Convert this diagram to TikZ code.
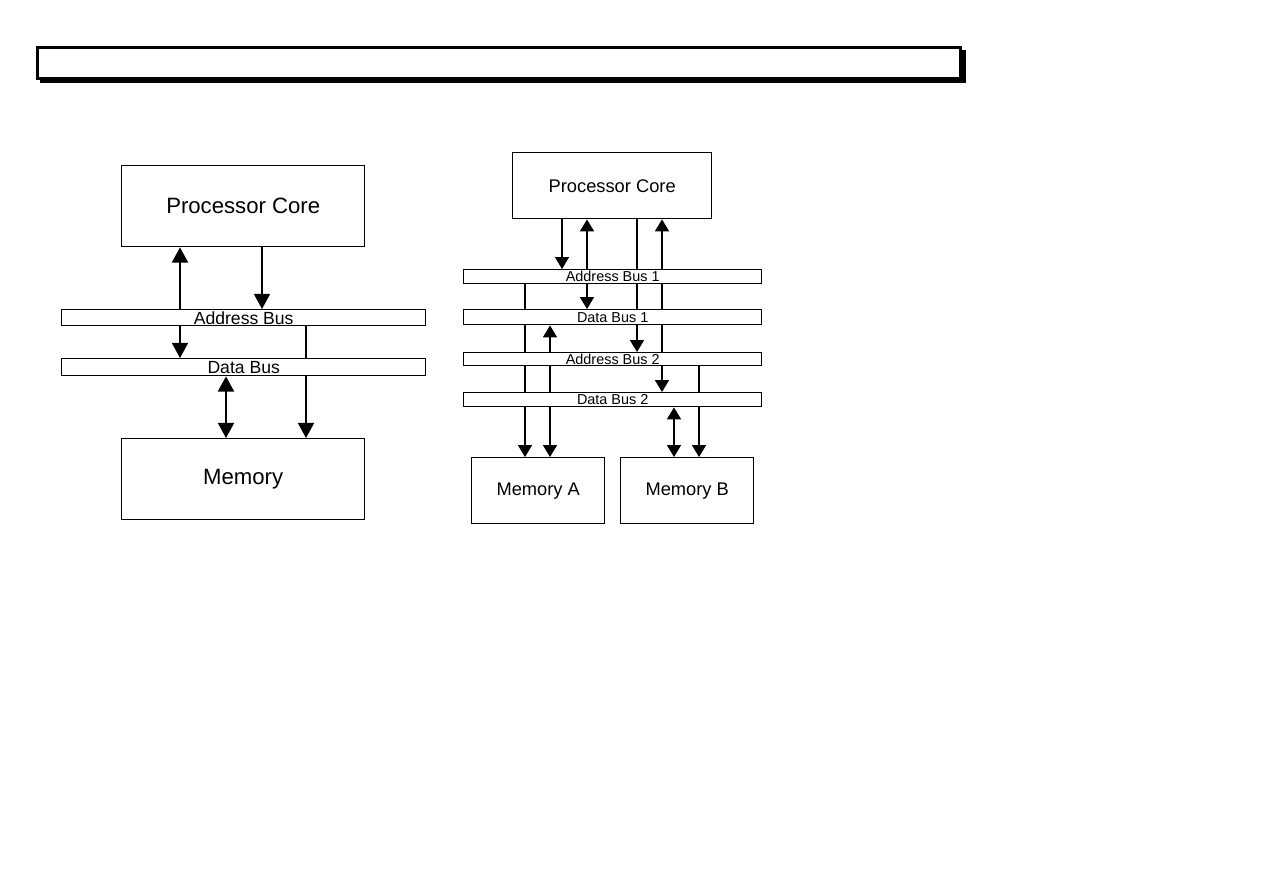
\documentclass[tikz,border=0pt]{standalone}
\usepackage{fontspec}
\setmainfont{Liberation Sans}
\usetikzlibrary{arrows.meta,backgrounds}

\begin{document}
\begin{tikzpicture}[x=0.01cm, y=-0.01cm,
    box/.style={draw, fill=white, line width=0.4pt, inner sep=0pt, anchor=north west},
    size/.style 2 args={minimum width=#1*0.01cm, minimum height=#2*0.01cm},
    bigL/.style={font=\fontsize{6.3pt}{7pt}\selectfont},
    bigR/.style={font=\fontsize{5.2pt}{6pt}\selectfont},
    busL/.style={font=\fontsize{5pt}{6pt}\selectfont},
    busR/.style={font=\fontsize{4.1pt}{5pt}\selectfont},
    arrL/.style={line width=0.35pt, -{Triangle[length=4.3pt,width=4.6pt]}},
    dblL/.style={line width=0.35pt, {Triangle[length=4.3pt,width=4.6pt]}-{Triangle[length=4.3pt,width=4.6pt]}},
    arrR/.style={line width=0.35pt, -{Triangle[length=3.4pt,width=4pt]}},
    dblR/.style={line width=0.35pt, {Triangle[length=3.4pt,width=4pt]}-{Triangle[length=3.4pt,width=4pt]}}]
    \useasboundingbox (0,0) rectangle (1263,893);

    % title bar with shadow
    \fill (40,50) rectangle (966,83);
    \draw[line width=0.75pt, fill=white] (37.5,47.5) rectangle (960.5,78.5);

    % left: one memory
    \node[box, size={243}{81}, bigL] (coreL) at (121,165) {Processor Core};
    \node[box, size={364}{16}, busL] (addrL) at (61,309) {Address Bus};
    \node[box, size={364}{17}, busL] (dataL) at (61,358) {Data Bus};
    \node[box, size={243}{81}, bigL] (memL) at (121,438) {Memory};

    % right: two memories
    \node[box, size={199}{66}, bigR] (coreR) at (512,152) {Processor Core};
    \node[box, size={298}{14}, busR] (addrA) at (463,269) {Address Bus 1};
    \node[box, size={298}{15}, busR] (dataA) at (463,309) {Data Bus 1};
    \node[box, size={298}{13}, busR] (addrB) at (463,352) {Address Bus 2};
    \node[box, size={298}{14}, busR] (dataB) at (463,392) {Data Bus 2};
    \node[box, size={133}{66}, bigR] (memA) at (471,457) {Memory A};
    \node[box, size={133}{66}, bigR] (memB) at (620,457) {Memory B};

    % columns
    \foreach \n/\x in {l1/180, l2/262, l3/306, l4/226,
                       r1/525, r2/550, r3/562, r4/587, r5/637, r6/662, r7/674, r8/699}
        \coordinate (\n) at (\x,0);

    \begin{scope}[on background layer]
        \draw[arrL] (addrL.north -| l1) -- (coreL.south -| l1);
        \draw[arrL] (coreL.south -| l2) -- (addrL.north -| l2);
        \draw[arrL] (addrL.south -| l1) -- (dataL.north -| l1);
        \draw[arrL] (addrL.south -| l3) -- (memL.north -| l3);
        \draw[dblL] (dataL.south -| l4) -- (memL.north -| l4);

        \draw[arrR] (coreR.south -| r3) -- (addrA.north -| r3);
        \draw[arrR] (addrA.north -| r4) -- (coreR.south -| r4);
        \draw[arrR] (addrA.south -| r4) -- (dataA.north -| r4);
        \draw[arrR] (coreR.south -| r5) -- (addrB.north -| r5);
        \draw[arrR] (addrB.north -| r6) -- (coreR.south -| r6);
        \draw[arrR] (addrB.south -| r6) -- (dataB.north -| r6);
        \draw[arrR] (addrA.south -| r1) -- (memA.north -| r1);
        \draw[dblR] (dataA.south -| r2) -- (memA.north -| r2);
        \draw[dblR] (dataB.south -| r7) -- (memB.north -| r7);
        \draw[arrR] (addrB.south -| r8) -- (memB.north -| r8);
    \end{scope}
\end{tikzpicture}
\end{document}
